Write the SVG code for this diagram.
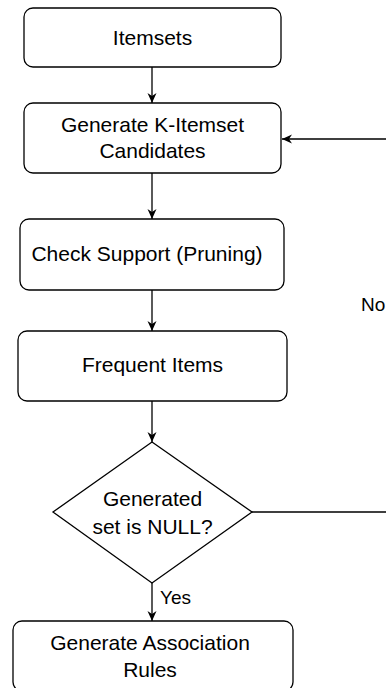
<svg xmlns="http://www.w3.org/2000/svg" width="386" height="688" viewBox="0 0 386 688">
<style>
.box{fill:#fff;stroke:#000;stroke-width:1.3}
.t{font-family:"Liberation Sans",Arial,sans-serif;font-size:21px;fill:#000;text-anchor:middle}
.lbl{font-family:"Liberation Sans",Arial,sans-serif;font-size:19px;fill:#000}
.c{fill:none;stroke:#000;stroke-width:1.3}
</style>
<defs>
<marker id="arr" viewBox="-11 -6 12 12" refX="0" refY="0" markerWidth="12" markerHeight="12" markerUnits="userSpaceOnUse" orient="auto">
<path d="M0,0 L-10,-4.5 L-7,0 L-10,4.5 Z" fill="#000"/>
</marker>
</defs>
<rect width="386" height="688" fill="#fff"/>
<g id="connectors">
<path class="c" d="M152,67 V103" marker-end="url(#arr)"/>
<path class="c" d="M152,173 V219" marker-end="url(#arr)"/>
<path class="c" d="M152,290 V331" marker-end="url(#arr)"/>
<path class="c" d="M152,401 V442" marker-end="url(#arr)"/>
<path class="c" d="M152,583 V621" marker-end="url(#arr)"/>
<path class="c" d="M252,512 H400 V139 H282" marker-end="url(#arr)"/>
<text class="lbl" x="160" y="604">Yes</text>
<text class="lbl" x="361" y="311">No</text>
</g>
<g id="itemsets">
<rect class="box" x="24" y="8" width="257" height="59" rx="9"/>
<text class="t" x="152.5" y="45">Itemsets</text>
</g>
<g id="generate-candidates">
<rect class="box" x="24" y="103" width="257" height="70" rx="9"/>
<text class="t" x="152.5" y="132">Generate K-Itemset</text>
<text class="t" x="152.5" y="158">Candidates</text>
</g>
<g id="check-support">
<rect class="box" x="20" y="219" width="264" height="71" rx="9"/>
<text class="t" x="147" y="261">Check Support (Pruning)</text>
</g>
<g id="frequent-items">
<rect class="box" x="18" y="331" width="269" height="70" rx="9"/>
<text class="t" x="152.5" y="372">Frequent Items</text>
</g>
<g id="decision">
<polygon class="box" points="152,442 252,512 152,583 53,512"/>
<text class="t" x="152.5" y="506">Generated</text>
<text class="t" x="152.5" y="534">set is NULL?</text>
</g>
<g id="association-rules">
<rect class="box" x="13" y="621" width="280" height="70" rx="9"/>
<text class="t" x="150" y="650">Generate Association</text>
<text class="t" x="150" y="677">Rules</text>
</g>
</svg>
